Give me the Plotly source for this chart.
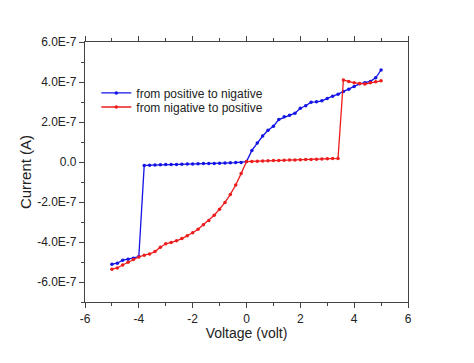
import plotly.graph_objects as go

# Sweep from positive to negative (blue), values in units of 1e-7 A
v_pos_to_neg = [5.0, 4.8, 4.6, 4.4, 4.2, 4.0, 3.8, 3.6, 3.4, 3.2, 3.0, 2.8, 2.6, 2.4, 2.2, 2.0,
                1.8, 1.6, 1.4, 1.2, 1.0, 0.8, 0.6, 0.4, 0.2, 0.0,
                -0.2, -0.4, -0.6, -0.8, -1.0, -1.2, -1.4, -1.6, -1.8, -2.0, -2.2, -2.4, -2.6,
                -2.8, -3.0, -3.2, -3.4, -3.6, -3.8,
                -4.0, -4.2, -4.4, -4.6, -4.8, -5.0]
i_pos_to_neg = [4.60, 4.21, 4.03, 3.96, 3.91, 3.78, 3.64, 3.53, 3.39, 3.29, 3.18, 3.06, 3.01, 2.99, 2.81, 2.69,
                2.44, 2.34, 2.26, 2.12, 1.79, 1.59, 1.30, 0.95, 0.58, 0.02,
                -0.02, -0.03, -0.04, -0.05, -0.06, -0.07, -0.08, -0.08, -0.09, -0.10, -0.10, -0.11, -0.12,
                -0.12, -0.13, -0.14, -0.15, -0.16, -0.17,
                -4.73, -4.81, -4.86, -4.91, -5.06, -5.11]

# Sweep from negative to positive (red)
v_neg_to_pos = [-5.0, -4.8, -4.6, -4.4, -4.2, -4.0, -3.8, -3.6, -3.4, -3.2, -3.0, -2.8, -2.6,
                -2.4, -2.2, -2.0, -1.8, -1.6, -1.4, -1.2, -1.0, -0.8, -0.6, -0.4, -0.2, 0.0,
                0.2, 0.4, 0.6, 0.8, 1.0, 1.2, 1.4, 1.6, 1.8, 2.0, 2.2, 2.4, 2.6, 2.8, 3.0, 3.2, 3.4,
                3.6, 3.8, 4.0, 4.2, 4.4, 4.6, 4.8, 5.0]
i_neg_to_pos = [-5.36, -5.30, -5.15, -5.01, -4.88, -4.75, -4.66, -4.60, -4.48, -4.26, -4.09, -4.03, -3.94,
                -3.83, -3.69, -3.54, -3.36, -3.14, -2.92, -2.66, -2.36, -2.02, -1.62, -1.15, -0.58, 0.02,
                0.03, 0.04, 0.05, 0.06, 0.07, 0.08, 0.09, 0.10, 0.10, 0.11, 0.12, 0.13, 0.14, 0.15, 0.16, 0.17, 0.18,
                4.10, 4.03, 3.96, 3.93, 3.90, 3.96, 4.01, 4.06]

scale = 1e-7

x_tick_vals = [-6, -4, -2, 0, 2, 4, 6]
x_tick_text = ["-6", "-4", "-2", "0", "2", "4", "6"]
y_tick_vals = [6e-7, 4e-7, 2e-7, 0.0, -2e-7, -4e-7, -6e-7]
y_tick_text = ["6.0E-7", "4.0E-7", "2.0E-7", "0.0", "-2.0E-7", "-4.0E-7", "-6.0E-7"]

fig = go.Figure()
fig.add_trace(go.Scatter(
    x=v_pos_to_neg, y=[v * scale for v in i_pos_to_neg],
    mode="lines+markers", name="from positive to nigative",
    line=dict(color="#1414e6", width=1.3),
    marker=dict(color="#1414e6", size=3.5),
    legend="legend",
))
fig.add_trace(go.Scatter(
    x=v_neg_to_pos, y=[v * scale for v in i_neg_to_pos],
    mode="lines+markers", name="from nigative to positive",
    line=dict(color="#ee1c1c", width=1.3),
    marker=dict(color="#ee1c1c", size=3.5),
    legend="legend2",
))

axis_font = dict(family="Arial, Liberation Sans, sans-serif", size=12, color="#222")
leg_common = dict(x=0.035, xanchor="left", yanchor="middle",
                  bgcolor="rgba(0,0,0,0)", font=dict(size=12, color="#222"),
                  itemwidth=30)
fig.update_layout(
    width=474, height=363,
    margin=dict(l=85, r=66, t=42, b=61, autoexpand=False),
    paper_bgcolor="white", plot_bgcolor="white",
    font=dict(family="Arial, Liberation Sans, sans-serif", color="#222"),
    showlegend=True,
    legend=dict(y=0.804, **leg_common),
    legend2=dict(y=0.750, **leg_common),
)
fig.update_xaxes(
    range=[-6, 6], tickmode="array", tickvals=x_tick_vals, ticktext=x_tick_text,
    showgrid=False, zeroline=False, showline=True, linecolor="#444", linewidth=1.2,
    ticks="outside", ticklen=5, tickwidth=1.2, tickcolor="#444", mirror="ticks",
    minor=dict(dtick=1, ticks="outside", ticklen=3, tickwidth=1, tickcolor="#444", showgrid=False),
    tickfont=axis_font, automargin=False,
    title=dict(text="Voltage (volt)", font=dict(size=14, color="#222"), standoff=1),
)
fig.update_yaxes(
    range=[-7e-7, 6e-7], tickmode="array", tickvals=y_tick_vals, ticktext=y_tick_text,
    showgrid=False, zeroline=False, showline=True, linecolor="#444", linewidth=1.2,
    ticks="outside", ticklen=5, tickwidth=1.2, tickcolor="#444", mirror=True,
    minor=dict(dtick=1e-7, tick0=0, ticks="outside", ticklen=3, tickwidth=1, tickcolor="#444", showgrid=False),
    tickfont=axis_font, automargin=False,
    title=dict(text="Current (A)", font=dict(size=15, color="#222"), standoff=1),
)

fig.write_html("out.html", config={"displayModeBar": False},
               post_script="document.body.style.margin='0';")
